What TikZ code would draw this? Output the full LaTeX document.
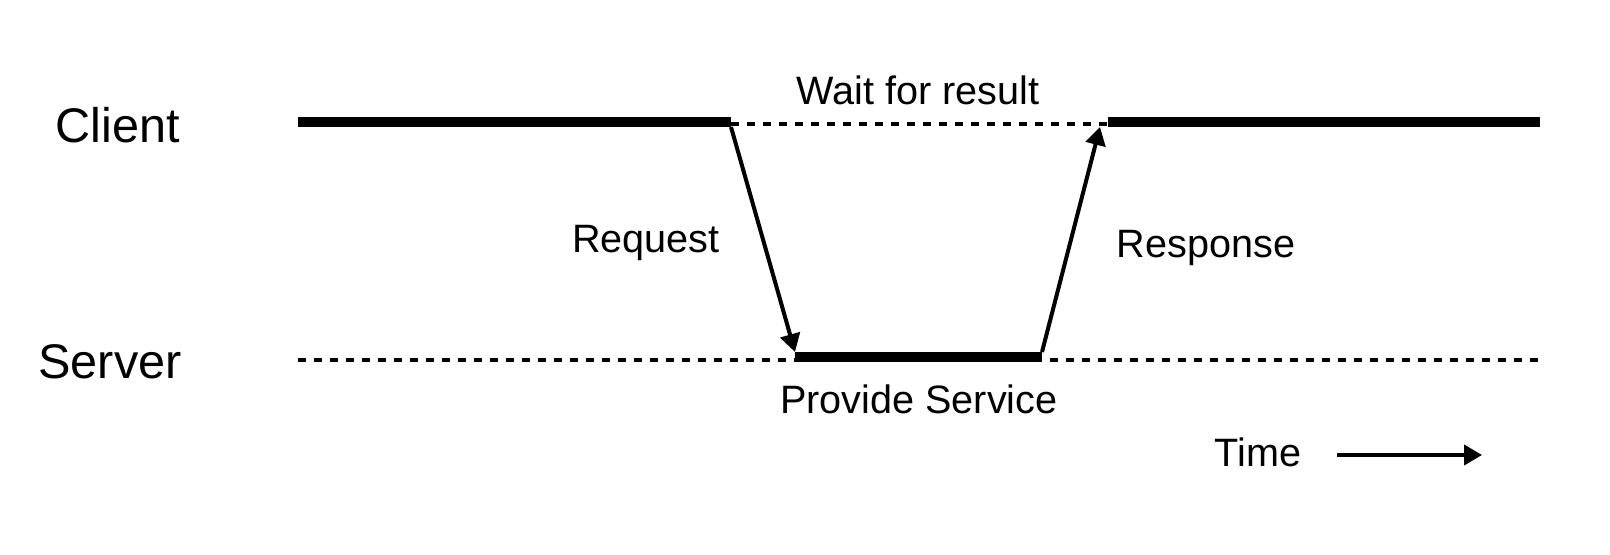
\documentclass[tikz,border=0pt]{standalone}
\usepackage{fontspec}
\setmainfont{Liberation Sans}
\usetikzlibrary{arrows.meta}
\tikzset{
  busy/.style={line width=5pt},
  idle/.style={line width=2pt, dash pattern=on 4pt off 4pt},
  msg/.style={line width=2pt, -{Triangle[length=9pt,width=10pt]}},
  role/.style={font=\fontsize{24.3}{28}\selectfont},
  lbl/.style={font=\fontsize{19.8}{23}\selectfont}
}
\begin{document}
\begin{tikzpicture}[x=0.5pt,y=-0.5pt]
      \useasboundingbox (0,0) rectangle (1610,555);
      \draw
        (118,125) node[role] (client){Client}
        (110,362) node[role] (server){Server}
        (918,90) node[lbl] (wait){Wait for result}
        (646,243) node[lbl] (request){Request}
        (1206,248) node[lbl] (response){Response}
        (919,399) node[lbl] (provide){Provide Service}
        (1258,452) node[lbl] (time){Time};
      \coordinate (c0) at (298,122);
      \coordinate (c1) at (731,122);
      \coordinate (c2) at (1108,122);
      \coordinate (c3) at (1540,122);
      \coordinate (s0) at (298,360);
      \coordinate (s1) at (795,357);
      \coordinate (s2) at (1042,357);
      \coordinate (s3) at (1540,360);
      \coordinate (t0) at (1337,455);
      \coordinate (t1) at (1482,455);
      \begin{scope}[-]
        \draw[idle] (c1 |- 0,124) -- (c2 |- 0,124);
        \draw[idle] (s0) -- (s3);
        \draw[busy] (c0) -- (c1);
        \draw[busy] (c2) -- (c3);
        \draw[busy] (s1) -- (s2);
      \end{scope}
      \draw[msg] ([yshift=-2.5pt]c1) -- ([yshift=2.5pt]s1);
      \draw[msg] ([yshift=2.5pt]s2) -- ([xshift=-4pt,yshift=-2.5pt]c2);
      \draw[msg] (t0) -- (t1);
    \end{tikzpicture}
\end{document}
